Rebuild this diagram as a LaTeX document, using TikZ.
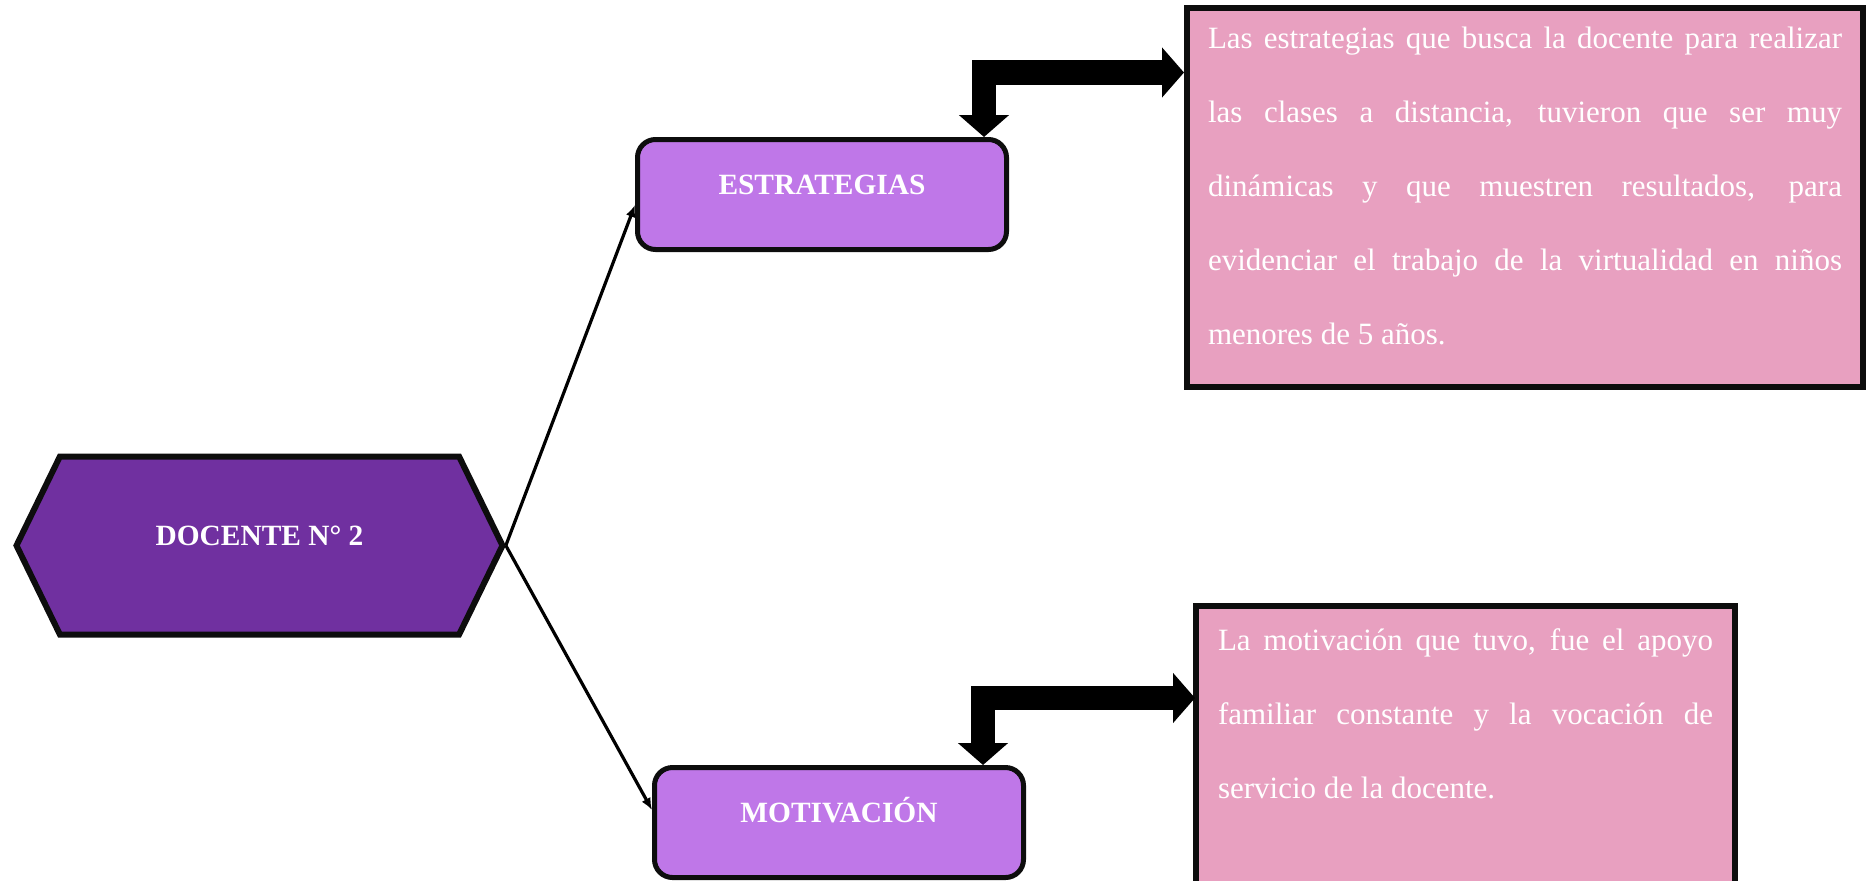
\documentclass[tikz,border=0pt]{standalone}
\usepackage{fontspec}
\setmainfont{Liberation Serif}
\usetikzlibrary{arrows.meta,shapes.symbols}
\definecolor{docpurple}{HTML}{7030A0}
\definecolor{lilac}{HTML}{BF77E8}
\definecolor{rosebox}{HTML}{E8A0C0}
\tikzset{>={Latex[length=6pt,width=5pt]}}
\newcommand{\boxpar}[3]{\parbox[c][#1][t]{#2}{\fontsize{15.5}{37}\selectfont\tolerance=10000\hyphenpenalty=10000 #3}}

\begin{document}
\begin{tikzpicture}[x=0.5pt, y=-0.5pt, line join=miter]
  \tikzset{
    title/.style={text=white, font=\fontsize{14.7}{18}\selectfont\bfseries, text height=5pt, text depth=5pt},
    hexa/.style={title, shape=signal, signal to=east and west, signal pointer angle=128, draw=black!95, line width=3pt, fill=docpurple, minimum width=243pt, minimum height=89pt},
    topic/.style={title, rectangle, rounded corners=9pt, draw=black!95, line width=2.5pt, fill=lilac, minimum width=184.5pt, minimum height=55pt},
    infobox/.style={rectangle, draw=black!95, line width=3pt, fill=rosebox, text=white, anchor=north west},
    bigarrow/.style={line width=12.25pt, {Triangle[length=11pt,width=24.5pt]}-{Triangle[length=11pt,width=24.5pt]}}
  }
  \useasboundingbox (0,0) rectangle (1870,880);

  \node[hexa] (doc) at (259.5,545.5) {DOCENTE N° 2};
  \node[topic] (est) at (822,194.5) {ESTRATEGIAS};
  \node[topic] (mot) at (839,822.5) {MOTIVACIÓN};

  % text boxes
  \node[infobox, inner xsep=10.5pt, inner ysep=9.5pt] (txt1) at (1184,5)
    {\boxpar{170.5pt}{317pt}{Las estrategias que busca la docente para realizar\linebreak
     las clases a distancia, tuvieron que ser muy\linebreak
     dinámicas y que muestren resultados, para\linebreak
     evidenciar el trabajo de la virtualidad en niños\linebreak
     menores de 5 años.}};
  \node[infobox, inner xsep=11pt, inner ysep=11.25pt] (txt2) at (1193,603)
    {\boxpar{125pt}{247.5pt}{La motivación que tuvo, fue el apoyo\linebreak
     familiar constante y la vocación de\linebreak
     servicio de la docente.}};

  \draw[->, line width=1.6pt] (doc.east) -- ([yshift=-5.25pt]est.west);
  \draw[->, line width=1.6pt] (doc.east) -- ([yshift=6.25pt]mot.west);

  \draw[bigarrow] ([xshift=-12.5pt]est.north east) |- ([yshift=-33.75pt]txt1.north west);
  \draw[bigarrow] ([xshift=-21.5pt]mot.north east) |- ([xshift=1pt,yshift=-47.5pt]txt2.north west);
\end{tikzpicture}
\end{document}
